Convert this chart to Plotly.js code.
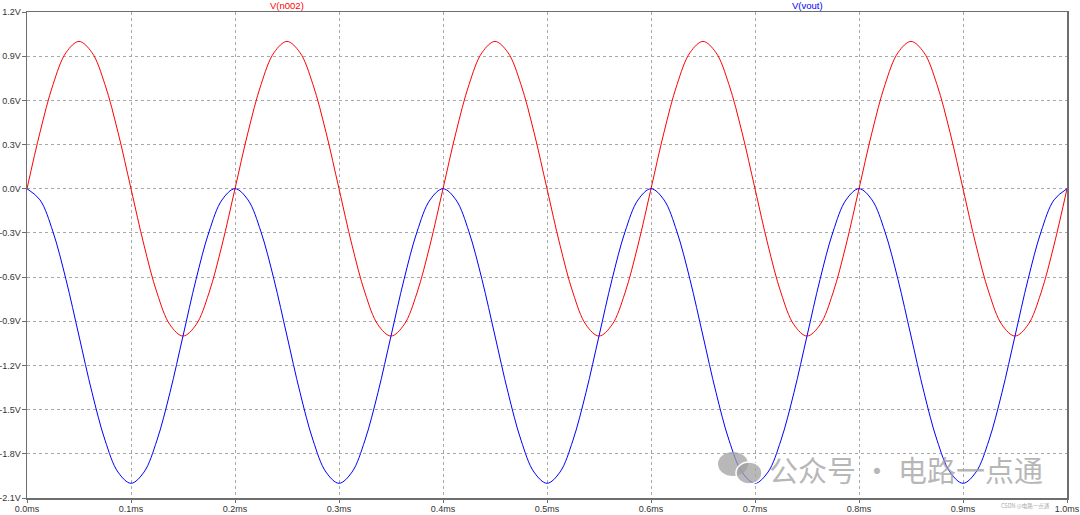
<!DOCTYPE html>
<html>
<head>
<meta charset="utf-8">
<script src="https://cdn.plot.ly/plotly-3.0.1.min.js"></script>
<style>html,body{margin:0;padding:0;background:#fff;}#chart{width:1080px;height:515px;}</style>
</head>
<body>
<div id="chart"></div>
<script>
// time in ms
var timeMs = [
  0.0000,0.0125,0.0250,0.0375,0.0500,0.0625,0.0750,0.0875,0.1000,0.1125,0.1250,0.1375,0.1500,0.1625,0.1750,0.1875,
  0.2000,0.2125,0.2250,0.2375,0.2500,0.2625,0.2750,0.2875,0.3000,0.3125,0.3250,0.3375,0.3500,0.3625,0.3750,0.3875,
  0.4000,0.4125,0.4250,0.4375,0.4500,0.4625,0.4750,0.4875,0.5000,0.5125,0.5250,0.5375,0.5500,0.5625,0.5750,0.5875,
  0.6000,0.6125,0.6250,0.6375,0.6500,0.6625,0.6750,0.6875,0.7000,0.7125,0.7250,0.7375,0.7500,0.7625,0.7750,0.7875,
  0.8000,0.8125,0.8250,0.8375,0.8500,0.8625,0.8750,0.8875,0.9000,0.9125,0.9250,0.9375,0.9500,0.9625,0.9750,0.9875,
  1.0000
];
// V(n002)
var vN002 = [
  0,0.383,0.707,0.924,1,0.924,0.707,0.383,0,-0.383,-0.707,-0.924,-1,-0.924,-0.707,-0.383,
  0,0.383,0.707,0.924,1,0.924,0.707,0.383,0,-0.383,-0.707,-0.924,-1,-0.924,-0.707,-0.383,
  0,0.383,0.707,0.924,1,0.924,0.707,0.383,0,-0.383,-0.707,-0.924,-1,-0.924,-0.707,-0.383,
  0,0.383,0.707,0.924,1,0.924,0.707,0.383,0,-0.383,-0.707,-0.924,-1,-0.924,-0.707,-0.383,
  0,0.383,0.707,0.924,1,0.924,0.707,0.383,0,-0.383,-0.707,-0.924,-1,-0.924,-0.707,-0.383,
  0
];
// V(vout)
var vVout = [
  0,-0.076,-0.293,-0.617,-1,-1.383,-1.707,-1.924,-2,-1.924,-1.707,-1.383,-1,-0.617,-0.293,-0.076,
  0,-0.076,-0.293,-0.617,-1,-1.383,-1.707,-1.924,-2,-1.924,-1.707,-1.383,-1,-0.617,-0.293,-0.076,
  0,-0.076,-0.293,-0.617,-1,-1.383,-1.707,-1.924,-2,-1.924,-1.707,-1.383,-1,-0.617,-0.293,-0.076,
  0,-0.076,-0.293,-0.617,-1,-1.383,-1.707,-1.924,-2,-1.924,-1.707,-1.383,-1,-0.617,-0.293,-0.076,
  0,-0.076,-0.293,-0.617,-1,-1.383,-1.707,-1.924,-2,-1.924,-1.707,-1.383,-1,-0.617,-0.293,-0.076,
  0
];
var xTickVals = [0,0.1,0.2,0.3,0.4,0.5,0.6,0.7,0.8,0.9,1.0];
var xTickText = ["0.0ms","0.1ms","0.2ms","0.3ms","0.4ms","0.5ms","0.6ms","0.7ms","0.8ms","0.9ms","1.0ms"];
var yTickVals = [1.2,0.9,0.6,0.3,0,-0.3,-0.6,-0.9,-1.2,-1.5,-1.8,-2.1];
var yTickText = ["1.2V","0.9V","0.6V","0.3V","0.0V","-0.3V","-0.6V","-0.9V","-1.2V","-1.5V","-1.8V","-2.1V"];
var seriesNames = ["V(n002)","V(vout)"];

var tickFont = {family:"Liberation Sans, Arial, sans-serif", size:9, color:"#333333"};

var traces = [
  {x:timeMs, y:vN002, type:"scatter", mode:"lines", name:seriesNames[0],
   line:{color:"#ff0000", width:1, shape:"spline", smoothing:1}},
  {x:timeMs, y:vVout, type:"scatter", mode:"lines", name:seriesNames[1],
   line:{color:"#0000ff", width:1, shape:"spline", smoothing:1}}
];

function px(x){return (x-27)/1040;}
function py(y){return (498-y)/486;}

var layout = {
  width:1080, height:515,
  margin:{l:27, r:13, t:12, b:17, pad:0},
  paper_bgcolor:"#ffffff", plot_bgcolor:"#ffffff",
  showlegend:false,
  xaxis:{range:[0,1.0], tickvals:xTickVals, ticktext:xTickText, tickfont:tickFont,
    showgrid:true, gridcolor:"#a8a8a8", griddash:"dot", gridwidth:1,
    showline:true, linecolor:"#6e6e6e", linewidth:1.5, mirror:true,
    ticks:"outside", ticklen:3, tickcolor:"#6e6e6e", zeroline:false, fixedrange:true,
    ticklabeloverflow:"allow", ticklabelstandoff:-1},
  yaxis:{range:[-2.1,1.2], tickvals:yTickVals, ticktext:yTickText, tickfont:tickFont,
    showgrid:true, gridcolor:"#a8a8a8", griddash:"dot", gridwidth:1,
    showline:true, linecolor:"#6e6e6e", linewidth:1.5, mirror:true,
    ticks:"outside", ticklen:4, tickcolor:"#6e6e6e", zeroline:false, fixedrange:true,
    ticklabeloverflow:"allow", ticklabelstandoff:-1},
  annotations:[
    {xref:"paper", yref:"paper", x:0.25, y:1, yanchor:"bottom", xanchor:"center", yshift:-1,
     text:seriesNames[0], showarrow:false, font:{family:"Liberation Sans, Arial, sans-serif", size:9.5, color:"#ff0000"}},
    {xref:"paper", yref:"paper", x:0.75, y:1, yanchor:"bottom", xanchor:"center", yshift:-1,
     text:seriesNames[1], showarrow:false, font:{family:"Liberation Sans, Arial, sans-serif", size:9.5, color:"#0000ff"}},
    {xref:"paper", yref:"paper", x:px(767), y:py(469), xanchor:"left", yanchor:"middle",
     text:"公众号 · 电路一点通", showarrow:false,
     font:{family:"Noto Sans CJK SC, sans-serif", size:29, color:"rgba(160,160,160,0.75)"}},
    {xref:"paper", yref:"paper", x:px(1052), y:py(506), xanchor:"right", yanchor:"middle",
     text:"CSDN @电路一点通", showarrow:false,
     font:{family:"Noto Sans CJK SC, sans-serif", size:5.5, color:"#aaaaaa"}}
  ],
  shapes:[
    {type:"circle", xref:"paper", yref:"paper", layer:"above",
     x0:px(718), x1:px(748), y0:py(476), y1:py(452), fillcolor:"rgba(160,160,160,0.75)", line:{width:0}},
    {type:"circle", xref:"paper", yref:"paper", layer:"above",
     x0:px(736), x1:px(762), y0:py(484), y1:py(462), fillcolor:"rgba(160,160,160,0.75)", line:{color:"#ffffff", width:1.5}}
  ]
};

Plotly.newPlot("chart", traces, layout, {displayModeBar:false, staticPlot:true});
</script>
</body>
</html>
